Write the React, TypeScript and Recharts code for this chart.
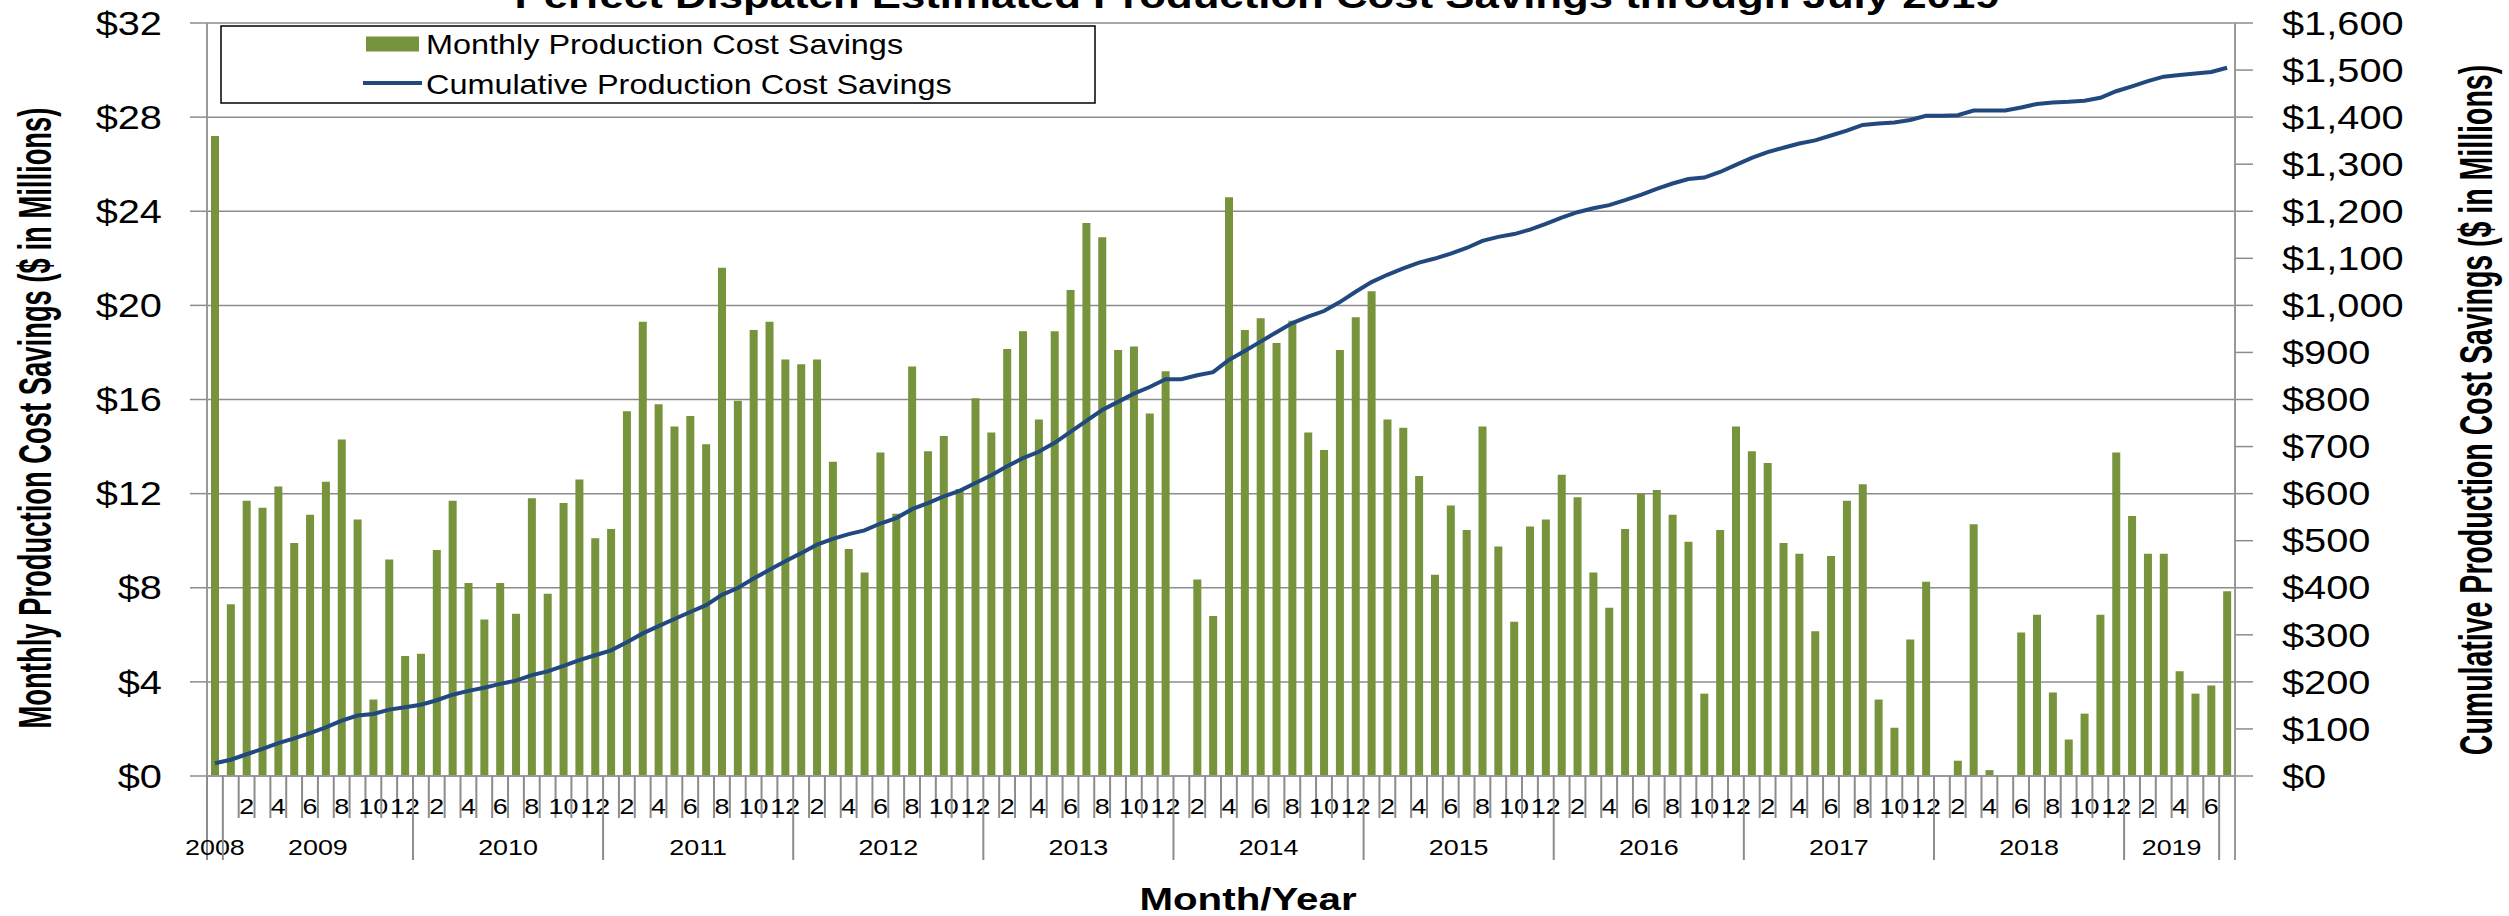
import React from "react";
import { ComposedChart, Bar, Line, XAxis, YAxis, CartesianGrid } from "recharts";

const FONT = '"Liberation Sans", Arial, Helvetica, sans-serif';
const W = 2509;
const H = 916;
const LEFT_W = 207;
const RIGHT_W = 274;
const TOP = 23;
const XAXIS_H = 140;
const PLOT_W = W - LEFT_W - RIGHT_W;

const GREEN = "#77933C";
const BLUE = "#22497F";
const GRID = "#8c8c8c";
const AXIS = "#999999";

const ALL_MONTHS = [1, 2, 3, 4, 5, 6, 7, 8, 9, 10, 11, 12];

// category groups of the two-level x axis (month row / year row)
const axisGroups: { label: string; year: number; months: number[] }[] = [
  { label: "2008", year: 2008, months: [12] },
  { label: "2009", year: 2009, months: ALL_MONTHS },
  { label: "2010", year: 2010, months: ALL_MONTHS },
  { label: "2011", year: 2011, months: ALL_MONTHS },
  { label: "2012", year: 2012, months: ALL_MONTHS },
  { label: "2013", year: 2013, months: ALL_MONTHS },
  { label: "2014", year: 2014, months: ALL_MONTHS },
  { label: "2015", year: 2015, months: ALL_MONTHS },
  { label: "2016", year: 2016, months: ALL_MONTHS },
  { label: "2017", year: 2017, months: ALL_MONTHS },
  { label: "2018", year: 2018, months: ALL_MONTHS },
  { label: "2019", year: 2019, months: [1, 2, 3, 4, 5, 6] },
  { label: "", year: 2019, months: [7] },
];

const monthTickLabels = ["2", "4", "6", "8", "10", "12"];
const leftTicks = [0, 4, 8, 12, 16, 20, 24, 28, 32];
const rightTicks = [0, 100, 200, 300, 400, 500, 600, 700, 800, 900, 1000, 1100, 1200, 1300, 1400, 1500, 1600];

// Monthly production cost savings ($ millions), Dec 2008 .. Jul 2019
const monthlySavings = [
  27.2,
  7.3, 11.7, 11.4, 12.3, 9.9, 11.1, 12.5, 14.3, 10.9, 3.25, 9.2, 5.1,
  5.2, 9.6, 11.7, 8.2, 6.65, 8.2, 6.9, 11.8, 7.75, 11.6, 12.6, 10.1,
  10.5, 15.5, 19.3, 15.8, 14.85, 15.3, 14.1, 21.6, 15.95, 18.95, 19.3, 17.7,
  17.5, 17.7, 13.35, 9.65, 8.65, 13.75, 11.15, 17.4, 13.8, 14.45, 12.2, 16.05,
  14.6, 18.15, 18.9, 15.15, 18.9, 20.65, 23.5, 22.9, 18.1, 18.25, 15.4, 17.2,
  0, 8.35, 6.8, 24.6, 18.95, 19.45, 18.4, 19.35, 14.6, 13.85, 18.1, 19.5,
  20.6, 15.15, 14.8, 12.75, 8.55, 11.5, 10.45, 14.85, 9.75, 6.55, 10.6, 10.9,
  12.8, 11.85, 8.65, 7.15, 10.5, 12.0, 12.15, 11.1, 9.95, 3.5, 10.45, 14.85,
  13.8, 13.3, 9.9, 9.45, 6.15, 9.35, 11.7, 12.4, 3.25, 2.05, 5.8, 8.25,
  0, 0.65, 10.7, 0.25, 0, 6.1, 6.85, 3.55, 1.55, 2.65, 6.85, 13.75,
  11.05, 9.45, 9.45, 4.45, 3.5, 3.85, 7.85,
];

// Cumulative production cost savings ($ millions)
const cumulativeSavings = [
  27.2,
  34.5, 46.2, 57.6, 69.9, 79.8, 90.9, 103.4, 117.7, 128.6, 131.9, 141.1, 146.2,
  151.4, 161.0, 172.7, 180.9, 187.5, 195.7, 202.6, 214.4, 222.2, 233.8, 246.4, 256.5,
  267.0, 284.0, 303.0, 318.5, 333.5, 348.5, 363.0, 385.0, 399.5, 419.5, 438.0, 456.5,
  473.5, 491.5, 504.0, 514.0, 522.0, 536.5, 548.0, 567.0, 580.0, 594.0, 606.0, 622.5,
  639.0, 658.0, 675.5, 689.0, 708.0, 731.0, 754.5, 777.5, 795.0, 812.5, 826.5, 843.0,
  843.0, 851.5, 858.0, 884.0, 903.0, 923.0, 943.0, 962.5, 976.0, 988.0, 1007.0, 1029.0,
  1049.5, 1065.0, 1078.5, 1091.0, 1099.5, 1110.0, 1122.0, 1137.0, 1145.5, 1151.5, 1161.0, 1173.0,
  1186.5, 1198.0, 1206.5, 1213.0, 1223.5, 1235.0, 1247.5, 1259.0, 1268.5, 1271.5, 1283.5, 1298.5,
  1313.5, 1325.5, 1335.0, 1344.0, 1350.5, 1361.0, 1371.5, 1383.5, 1386.5, 1388.5, 1394.0, 1403.0,
  1403.0, 1404.0, 1414.0, 1414.0, 1414.0, 1420.5, 1428.0, 1431.0, 1432.5, 1435.0, 1441.0, 1455.0,
  1465.5, 1476.5, 1486.0, 1489.5, 1492.5, 1496.0, 1505.0,
];

type Cat = { key: string; month: number; groupStart: boolean; groupSize: number; groupLabel: string };
const categories: Cat[] = axisGroups.flatMap((g) =>
  g.months.map((m, j) => ({
    key: `${g.year}-${m}`,
    month: m,
    groupStart: j === 0,
    groupSize: g.months.length,
    groupLabel: g.label,
  }))
);

const data = categories.map((c, i) => ({
  cat: c.key,
  monthly: monthlySavings[i],
  cumulative: cumulativeSavings[i],
}));

function SText(props: {
  x: number;
  y: number;
  sx: number;
  size: number;
  anchor?: "start" | "middle" | "end";
  bold?: boolean;
  rotate?: number;
  dy?: string;
  children: React.ReactNode;
}) {
  const { x, y, sx, size, anchor = "start", bold, rotate, dy, children } = props;
  const t = `translate(${x},${y}) scale(${sx},1)${rotate ? ` rotate(${rotate})` : ""}`;
  return (
    <text
      x={0}
      y={0}
      dy={dy}
      transform={t}
      textAnchor={anchor}
      fontFamily={FONT}
      fontSize={size}
      fontWeight={bold ? "bold" : "normal"}
      fill="#000"
    >
      {children}
    </text>
  );
}

function XTick(props: any) {
  const { x, y } = props;
  const i: number = props.index ?? props.payload?.index ?? 0;
  const c = categories[i];
  if (!c) return null;
  const bw = PLOT_W / categories.length;
  const left = x - bw / 2;
  const showMonth = c.groupSize > 1 && monthTickLabels.includes(String(c.month));
  return (
    <g>
      <line x1={left} x2={left} y1={y} y2={y + (c.groupStart ? 84 : 42)} stroke={GRID} strokeWidth={2} />
      {i === categories.length - 1 && (
        <line x1={x + bw / 2} x2={x + bw / 2} y1={y} y2={y + 84} stroke={AXIS} strokeWidth={2} />
      )}
      {showMonth && (
        <SText x={x} y={y + 38} sx={1.25} size={21.5} anchor="middle">
          {String(c.month)}
        </SText>
      )}
      {c.groupStart && c.groupLabel && (
        <SText x={x + ((c.groupSize - 1) / 2) * bw} y={y + 79} sx={1.25} size={21.5} anchor="middle">
          {c.groupLabel}
        </SText>
      )}
    </g>
  );
}

function LeftTick(props: any) {
  const { x, y, payload } = props;
  return (
    <SText x={x} y={y} sx={1.22} size={32.6} anchor="end" dy="0.36em">
      {`$${payload.value}`}
    </SText>
  );
}

function RightTick(props: any) {
  const { x, y, payload } = props;
  return (
    <SText x={x} y={y} sx={1.22} size={32.6} anchor="start" dy="0.36em">
      {`$${Number(payload.value).toLocaleString("en-US")}`}
    </SText>
  );
}

export default function App() {
  return (
    <div style={{ position: "absolute", left: 0, top: 0, width: W, height: H, background: "#fff", overflow: "hidden" }}>
      <ComposedChart
        width={W}
        height={H}
        data={data}
        margin={{ top: TOP, right: 0, bottom: 0, left: 0 }}
        barCategoryGap={0}
      >
        <CartesianGrid yAxisId="left" vertical={false} stroke={GRID} strokeWidth={1.5} />
        <XAxis
          dataKey="cat"
          height={XAXIS_H}
          interval={0}
          tickSize={0}
          tickMargin={0}
          tickLine={false}
          axisLine={{ stroke: AXIS, strokeWidth: 2 }}
          tick={(p: any) => <XTick {...p} />}
        />
        <YAxis
          yAxisId="left"
          width={LEFT_W}
          domain={[0, 32]}
          ticks={leftTicks}
          interval={0}
          tickSize={17}
          tickMargin={28}
          axisLine={{ stroke: AXIS, strokeWidth: 2 }}
          tickLine={{ stroke: GRID, strokeWidth: 1.5 }}
          tick={(p: any) => <LeftTick {...p} />}
        />
        <YAxis
          yAxisId="right"
          orientation="right"
          width={RIGHT_W}
          domain={[0, 1600]}
          ticks={rightTicks}
          interval={0}
          tickSize={18}
          tickMargin={29}
          axisLine={{ stroke: AXIS, strokeWidth: 2 }}
          tickLine={{ stroke: GRID, strokeWidth: 1.5 }}
          tick={(p: any) => <RightTick {...p} />}
        />
        <Bar yAxisId="left" dataKey="monthly" fill={GREEN} barSize={8} isAnimationActive={false} />
        <Line
          yAxisId="right"
          dataKey="cumulative"
          type="linear"
          stroke={BLUE}
          strokeWidth={4}
          dot={false}
          activeDot={false}
          isAnimationActive={false}
        />
      </ComposedChart>
      <svg
        width={W}
        height={H}
        style={{ position: "absolute", left: 0, top: 0, pointerEvents: "none" }}
      >
        <SText x={1257} y={8} sx={1.25} size={35} anchor="middle" bold>
          Perfect Dispatch Estimated Production Cost Savings through July 2019
        </SText>
        <SText x={51} y={418} sx={1.7} size={27.4} anchor="middle" bold rotate={-90}>
          Monthly Production Cost Savings ($ in Millions)
        </SText>
        <SText x={2492} y={410} sx={1.65} size={28.5} anchor="middle" bold rotate={-90}>
          Cumulative Production Cost Savings ($ in Millions)
        </SText>
        <SText x={1248} y={910} sx={1.3} size={31} anchor="middle" bold>
          Month/Year
        </SText>
        <rect x={221} y={26} width={874} height={77} fill="#fff" stroke="#000" strokeWidth={1.5} />
        <rect x={366} y={36.5} width={53} height={15} fill={GREEN} />
        <SText x={426} y={53.5} sx={1.2} size={27}>
          Monthly Production Cost Savings
        </SText>
        <line x1={363} x2={422} y1={83} y2={83} stroke={BLUE} strokeWidth={4} />
        <SText x={426} y={93.5} sx={1.2} size={27}>
          Cumulative Production Cost Savings
        </SText>
      </svg>
    </div>
  );
}
